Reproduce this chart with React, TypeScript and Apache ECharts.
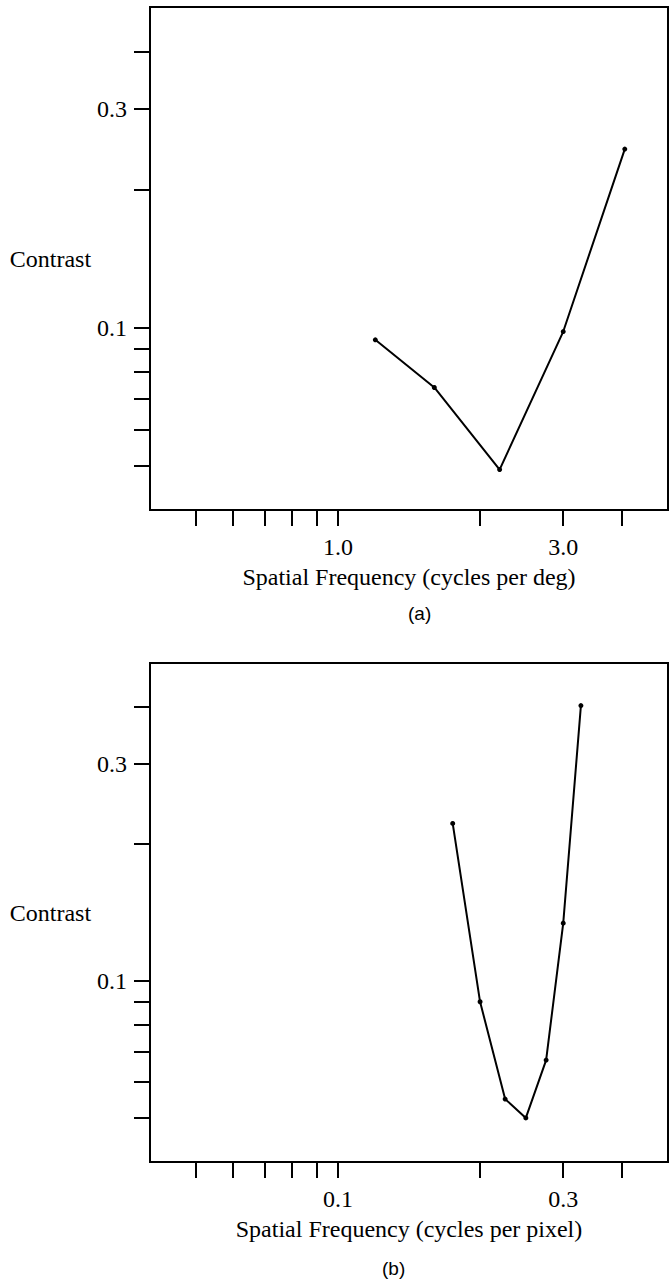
import { useEffect, useRef } from "react";
import * as echarts from "echarts";

// Panel (a): spatial frequency in cycles per degree
const freqDeg = [1.2, 1.6, 2.2, 3.0, 4.05];
const contrastA = [0.094, 0.074, 0.049, 0.098, 0.245];
// Panel (b): spatial frequency in cycles per pixel
const freqPixel = [0.175, 0.2, 0.226, 0.25, 0.276, 0.3, 0.327];
const contrastB = [0.222, 0.09, 0.055, 0.05, 0.067, 0.134, 0.403];

const yTickValues = [0.05, 0.06, 0.07, 0.08, 0.09, 0.1, 0.2, 0.3, 0.4];
const yLabelValues = [0.1, 0.3];
const xTickValuesA = [0.5, 0.6, 0.7, 0.8, 0.9, 1, 2, 3, 4];
const xLabelValuesA = [1, 3];
const xTickValuesB = [0.05, 0.06, 0.07, 0.08, 0.09, 0.1, 0.2, 0.3, 0.4];
const xLabelValuesB = [0.1, 0.3];

const xNameA = "Spatial Frequency (cycles per deg)";
const xNameB = "Spatial Frequency (cycles per pixel)";
const yName = "Contrast";

const SERIF = "Liberation Serif";
const FS = 24;

function xAxisOf(gridIndex: number, min: number, max: number, ticks: number[], labels: number[], name: string) {
  return {
    type: "log",
    logBase: 10,
    gridIndex,
    min,
    max,
    name,
    nameLocation: "middle",
    nameGap: 55,
    nameTextStyle: { fontFamily: SERIF, fontSize: FS, color: "#000" },
    axisLine: { show: true, lineStyle: { color: "#000", width: 2 } },
    axisTick: { show: true, inside: false, length: 16, customValues: ticks, lineStyle: { color: "#000", width: 2 } },
    axisLabel: {
      show: true,
      customValues: labels,
      margin: 25,
      fontFamily: SERIF,
      fontSize: FS,
      color: "#000",
      formatter: (v: number) => Number(v).toFixed(1),
    },
    splitLine: { show: false },
    minorTick: { show: false },
  };
}

function yAxisOf(gridIndex: number) {
  return {
    type: "log",
    logBase: 10,
    gridIndex,
    min: 0.04,
    max: 0.5,
    name: yName,
    nameLocation: "middle",
    nameRotate: 0,
    nameGap: 58,
    nameTextStyle: { fontFamily: SERIF, fontSize: FS, color: "#000" },
    axisLine: { show: true, lineStyle: { color: "#000", width: 2 } },
    axisTick: { show: true, inside: false, length: 16, customValues: yTickValues, lineStyle: { color: "#000", width: 2 } },
    axisLabel: {
      show: true,
      customValues: yLabelValues,
      margin: 23,
      fontFamily: SERIF,
      fontSize: FS,
      color: "#000",
      formatter: (v: number) => Number(v).toFixed(1),
    },
    splitLine: { show: false },
    minorTick: { show: false },
  };
}

function lineSeries(idx: number, xs: number[], ys: number[]) {
  return {
    type: "line",
    xAxisIndex: idx,
    yAxisIndex: idx,
    data: xs.map((x, i) => [x, ys[i]]),
    symbol: "circle",
    symbolSize: 5,
    showSymbol: true,
    itemStyle: { color: "#000" },
    lineStyle: { color: "#000", width: 2 },
  };
}

export default function App() {
  const ref = useRef<HTMLDivElement>(null);
  useEffect(() => {
    if (!ref.current) return;
    const chart = echarts.init(ref.current, null, { renderer: "svg" });
    chart.setOption({
      animation: false,
      backgroundColor: "#fff",
      grid: [
        { left: 150, top: 7, width: 518, height: 503, show: true, borderColor: "#000", borderWidth: 2, backgroundColor: "transparent" },
        { left: 150, top: 663, width: 518, height: 499, show: true, borderColor: "#000", borderWidth: 2, backgroundColor: "transparent" },
      ],
      xAxis: [
        xAxisOf(0, 0.4, 5, xTickValuesA, xLabelValuesA, xNameA),
        xAxisOf(1, 0.04, 0.5, xTickValuesB, xLabelValuesB, xNameB),
      ],
      yAxis: [yAxisOf(0), yAxisOf(1)],
      series: [lineSeries(0, freqDeg, contrastA), lineSeries(1, freqPixel, contrastB)],
      graphic: [
        { type: "text", left: 420 - 12, top: 604, style: { text: "(a)", font: "19px 'Liberation Sans'", fill: "#000" } },
        { type: "text", left: 394 - 12, top: 1259, style: { text: "(b)", font: "19px 'Liberation Sans'", fill: "#000" } },
      ],
    });
    return () => chart.dispose();
  }, []);
  return <div ref={ref} style={{ position: "absolute", left: 0, top: 0, width: 671, height: 1284 }} />;
}
